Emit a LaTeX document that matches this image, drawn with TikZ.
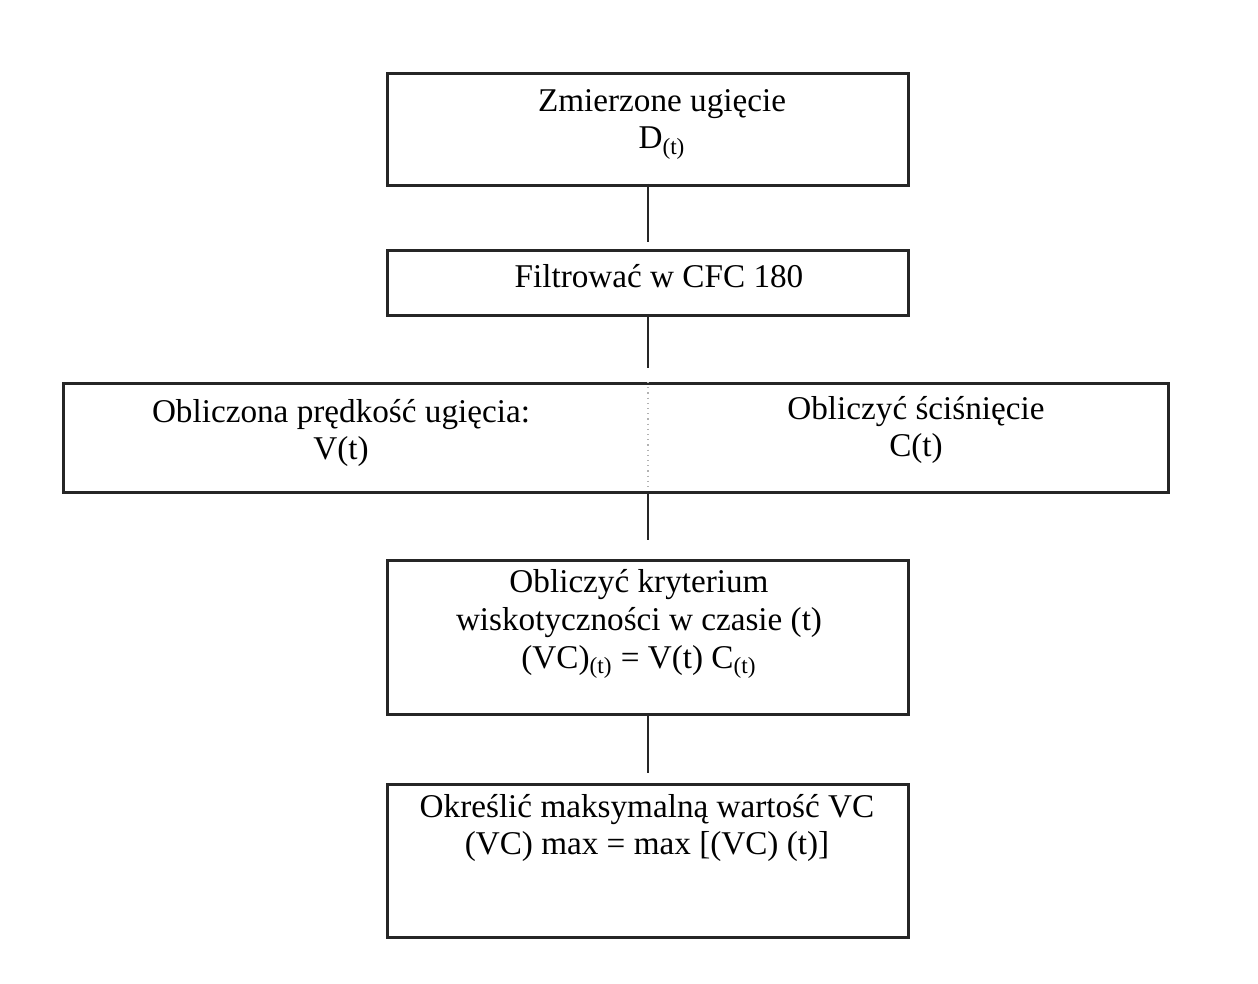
\documentclass[tikz,border=0pt]{standalone}
\usepackage{fontspec}
\setmainfont{Liberation Serif}
\begin{document}
\begin{tikzpicture}[x=0.5pt,y=-0.5pt,
  box/.style={draw=black!85,line width=1.3pt,rectangle,inner sep=0pt,anchor=north west},
  lbl/.style={align=center,font=\fontsize{16.6}{18.9}\selectfont,inner sep=0pt},
  conn/.style={draw=black!85,line width=1pt},
  divider/.style={draw=black!30,line width=0.6pt,dotted}]
\useasboundingbox[fill=white] (0,0) rectangle (1258,984);
% boxes
\node[box,minimum width=260.5pt,minimum height=56pt] (b1) at (386,72) {};
\node[box,minimum width=260.5pt,minimum height=32.5pt] (b2) at (386,249) {};
\node[box,minimum width=552.5pt,minimum height=54.5pt] (b3) at (62,382) {};
\node[box,minimum width=260.5pt,minimum height=77pt] (b4) at (386,559) {};
\node[box,minimum width=260.5pt,minimum height=76.5pt] (b5) at (386,783) {};
% labels
\node[lbl] (t1) at (662,124) {Zmierzone ugięcie\\D\textsubscript{(t)}};
\node[lbl] (t2) at (659,276) {Filtrować w CFC 180};
\node[lbl] (t3a) at (341,433) {Obliczona prędkość ugięcia:\\V(t)};
\node[lbl] (t3b) at (916,430) {Obliczyć ściśnięcie\\C(t)};
\node[lbl] (t4) at (639,624) {Obliczyć kryterium\\wiskotyczności w czasie (t)\\(VC)\textsubscript{(t)} = V(t) C\textsubscript{(t)}};
\node[lbl] (t5) at (647,828) {Określić maksymalną wartość VC\\(VC) max = max [(VC) (t)]};
% connector points
\coordinate (c1) at (648,184);
\coordinate (c2) at (648,249);
\coordinate (c3) at (648,314);
\coordinate (c4) at (648,382);
\coordinate (c5) at (648,491);
\coordinate (c6) at (648,559);
\coordinate (c7) at (648,713);
\coordinate (c8) at (648,783);
\draw[conn,shorten >=3.5pt] (c1) -- (c2);
\draw[conn,shorten >=7pt] (c3) -- (c4);
\draw[divider] (c4) -- (c5);
\draw[conn,shorten >=9.5pt] (c5) -- (c6);
\draw[conn,shorten >=5pt] (c7) -- (c8);
\end{tikzpicture}
\end{document}
